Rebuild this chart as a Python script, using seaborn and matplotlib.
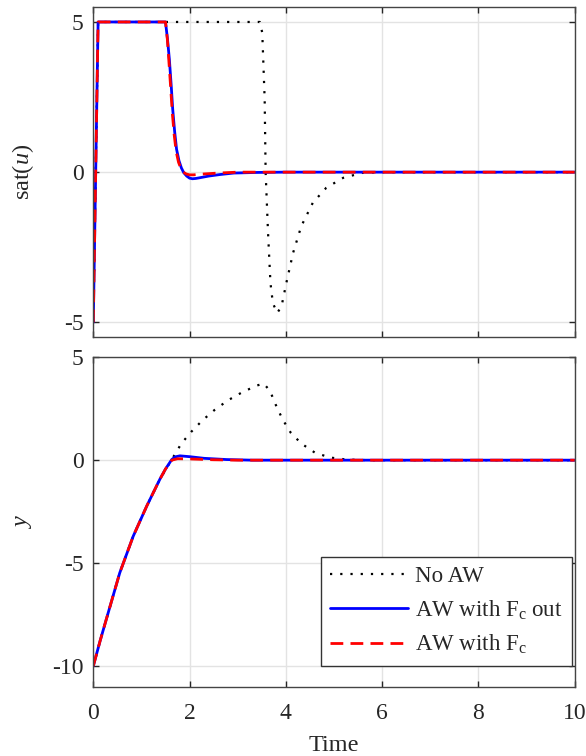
import matplotlib
matplotlib.use("Agg")
import matplotlib.pyplot as plt
import seaborn as sns

# sat(u) traces
t_u_noaw = [0, 0.1, 3.46, 3.51, 3.56, 3.58, 3.63, 3.68, 3.73, 3.82, 3.91, 4.01,
            4.15, 4.32, 4.56, 4.84, 5.19, 5.6, 6.0, 10]
u_noaw = [-5, 5, 5, 4.64, 2.42, 0, -2.02, -3.69, -4.36, -4.69, -4.47, -3.69,
          -2.69, -1.8, -1.02, -0.52, -0.19, -0.02, 0, 0]

t_u_out = [0, 0.1, 1.5, 1.54, 1.58, 1.62, 1.65, 1.69, 1.73, 1.78, 1.83, 1.88,
           1.94, 2.0, 2.06, 2.13, 2.2, 2.4, 2.63, 2.92, 3.4, 4.0, 10]
u_out = [-5, 5, 5, 4.45, 3.76, 2.85, 2.09, 1.35, 0.76, 0.38, 0.14, -0.02,
         -0.13, -0.2, -0.22, -0.21, -0.19, -0.13, -0.08, -0.03, -0.01, 0, 0]

t_u_fc = [0, 0.1, 1.5, 1.54, 1.57, 1.61, 1.64, 1.68, 1.72, 1.77, 1.82, 1.87,
          1.93, 2.0, 2.08, 2.3, 2.6, 3.0, 10]
u_fc = [-5, 5, 5, 4.4, 3.7, 2.75, 2.0, 1.25, 0.7, 0.33, 0.12, 0.0,
        -0.06, -0.09, -0.09, -0.06, -0.03, 0, 0]

# y traces
t_y_noaw = [0, 0.14, 0.28, 0.55, 0.83, 1.11, 1.38, 1.63, 1.83, 2.04, 2.27, 2.52,
            2.80, 3.08, 3.39, 3.54, 3.67, 3.79, 3.93, 4.10, 4.32, 4.60, 4.91,
            5.26, 5.7, 10]
y_noaw = [-10, -8.79, -7.65, -5.47, -3.69, -2.23, -0.94, 0.03, 0.81, 1.39, 1.94,
          2.44, 2.91, 3.28, 3.62, 3.72, 3.37, 2.69, 1.99, 1.34, 0.81, 0.37, 0.13,
          0.03, 0, 0]

t_y_out = [0, 0.14, 0.28, 0.55, 0.83, 1.11, 1.38, 1.5, 1.63, 1.7, 1.8, 2.0, 2.3,
           2.77, 3.3, 10]
y_out = [-10, -8.79, -7.65, -5.47, -3.69, -2.23, -0.94, -0.43, 0.03, 0.16, 0.21,
         0.17, 0.09, 0.03, 0, 0]

t_y_fc = [0, 0.14, 0.28, 0.55, 0.83, 1.11, 1.38, 1.5, 1.63, 1.75, 2.0, 2.5, 3.0, 10]
y_fc = [-10, -8.79, -7.65, -5.47, -3.69, -2.23, -0.94, -0.43, 0.0, 0.07, 0.06,
        0.02, 0, 0]

labels = ["No AW", r"AW with F$_\mathrm{c}$ out", r"AW with F$_\mathrm{c}$"]

sns.set_style("whitegrid")
plt.rcParams["font.family"] = ["Liberation Serif", "DejaVu Serif"]
plt.rcParams["mathtext.fontset"] = "custom"
plt.rcParams["mathtext.rm"] = "Liberation Serif"
plt.rcParams["mathtext.it"] = "Liberation Serif:italic"

fig = plt.figure(figsize=(5.86, 7.56), dpi=100)
ax1 = fig.add_axes([0.1592, 0.5538, 0.8215, 0.4370])
ax2 = fig.add_axes([0.1592, 0.0917, 0.8215, 0.4358])

for ax, series in [
    (ax1, [(t_u_noaw, u_noaw), (t_u_out, u_out), (t_u_fc, u_fc)]),
    (ax2, [(t_y_noaw, y_noaw), (t_y_out, y_out), (t_y_fc, y_fc)]),
]:
    (xa, ya), (xb, yb), (xc, yc) = series
    sns.lineplot(x=xa, y=ya, ax=ax, color="black", linestyle=(0, (1, 3.6)),
                 linewidth=1.6, label=labels[0], sort=False)
    sns.lineplot(x=xb, y=yb, ax=ax, color="#0000ff", linestyle="-",
                 linewidth=2.0, label=labels[1], sort=False)
    sns.lineplot(x=xc, y=yc, ax=ax, color="#ff0000", linestyle=(0, (4.6, 2.6)),
                 linewidth=2.0, label=labels[2], sort=False)
    ax.set_xlim(0, 10)
    ax.set_xticks([0, 2, 4, 6, 8, 10])
    ax.grid(True, color="#e3e3e3", linewidth=1.0)
    ax.tick_params(direction="in", length=4, width=1, colors="#262626",
                   labelsize=17, pad=7, top=True, right=True, bottom=True, left=True)
    ax.tick_params(axis="x", pad=12)
    for s in ax.spines.values():
        s.set_color("#444444")
        s.set_linewidth(1.0)

ax1.set_ylim(-5.5, 5.5)
ax1.set_yticks([-5, 0, 5])
ax1.set_yticklabels(["-5", "0", "5"])
ax1.set_xticklabels([])
ax1.set_ylabel(r"sat($\mathit{u}$)", fontsize=17.5)
ax1.yaxis.label.set_va("center")
ax1.yaxis.set_label_coords(-0.145, 0.5)
ax1.get_legend().remove()

ax2.set_ylim(-11, 5)
ax2.set_yticks([-10, -5, 0, 5])
ax2.set_yticklabels(["-10", "-5", "0", "5"])
ax2.set_xticklabels(["0", "2", "4", "6", "8", "10"])
ax2.set_xlabel("Time", fontsize=17.5, labelpad=8)
ax2.set_ylabel(r"$\mathit{y}$", fontsize=17.5)
ax2.yaxis.label.set_va("center")
ax2.yaxis.set_label_coords(-0.145, 0.5)
leg = ax2.legend(loc="lower right", fontsize=16.5, handlelength=3.4,
                 handletextpad=0.3, borderpad=0.4, labelspacing=0.5,
                 borderaxespad=0, frameon=True, fancybox=False, framealpha=1,
                 bbox_to_anchor=(0.994, 0.064))
leg.get_frame().set_edgecolor("#333333")
leg.get_frame().set_linewidth(1.0)

fig.savefig("out.png", dpi=100)
